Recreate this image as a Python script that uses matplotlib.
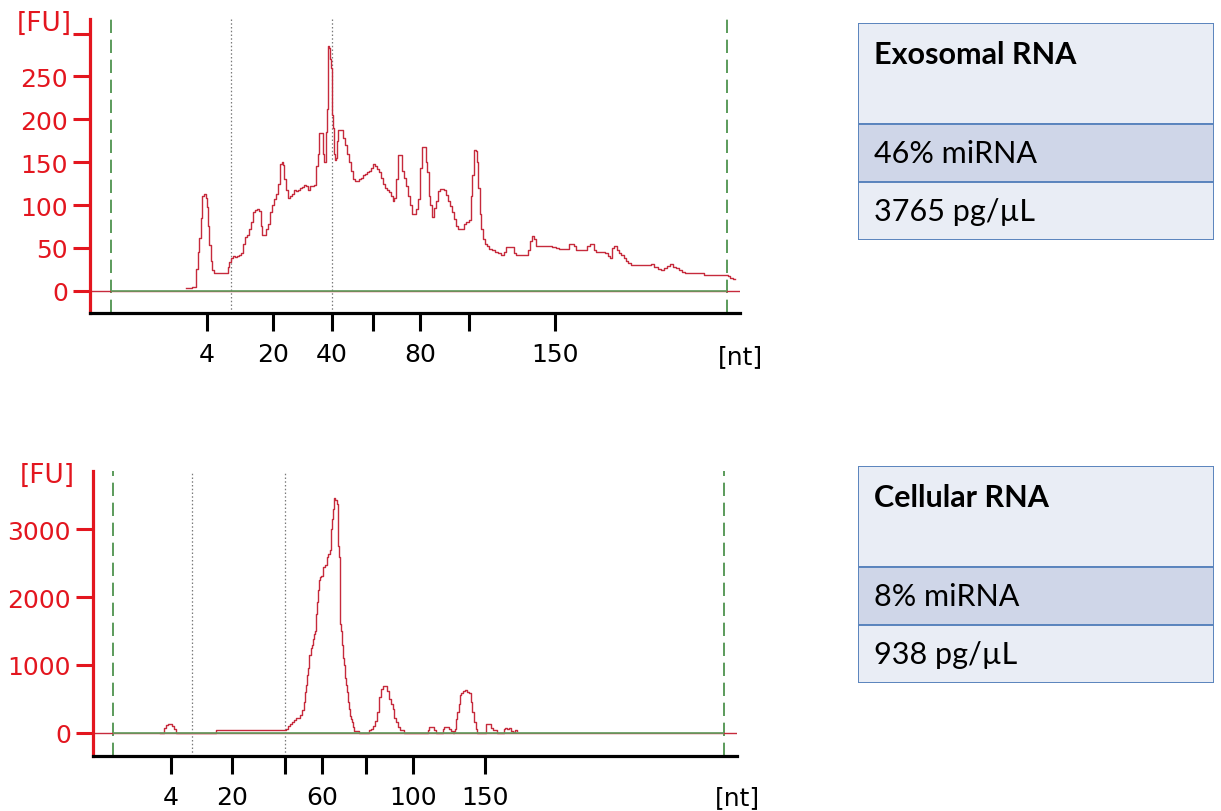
import matplotlib
matplotlib.use("Agg")
import matplotlib.pyplot as plt
import numpy as np
from matplotlib.patches import Rectangle

RED = "#e3161f"
TRACE = "#c62a3c"
GREEN = "#3f8a3f"
BASE_GREEN = "#5f9f5f"
DOT = "#7a7a7a"
BOX_EDGE = "#5a84bd"
BOX_FILL = "#e9edf5"
BOX_MID = "#cfd6e8"

# --- exosomal RNA electropherogram (scan position, fluorescence units) ---
exo_pos = [186, 190, 195, 197, 199, 200, 202, 203, 205, 207, 208, 209, 210, 212, 213, 216, 220, 224, 227,
           229, 230, 232, 234, 236, 238, 240, 242, 244, 246, 248, 250, 252, 254, 256, 258, 260, 262, 263,
           265, 267, 269, 271, 273, 275, 277, 279, 281, 283, 284, 285, 287, 289, 291, 293, 295, 297, 299,
           301, 303, 305, 307, 309, 311, 313, 315, 317, 319, 320, 322, 324, 325, 326, 327, 328, 329, 330,
           331, 332, 333, 334, 335, 336, 337, 338, 339, 341, 343, 344, 346, 348, 350, 352, 354, 356, 358,
           360, 362, 364, 366, 368, 370, 372, 374, 376, 378, 380, 382, 384, 386, 388, 390, 392, 394, 395,
           397, 399, 401, 403, 405, 407, 409, 411, 413, 415, 417, 419, 421, 423, 425, 427, 428, 430, 431,
           433, 435, 437, 439, 441, 443, 445, 447, 449, 451, 453, 455, 457, 459, 461, 463, 465, 468, 470,
           472, 473, 475, 477, 478, 479, 481, 482, 484, 486, 488, 491, 494, 497, 500, 503, 505, 507, 510,
           513, 515, 517, 520, 524, 527, 529, 531, 533, 535, 537, 540, 545, 550, 555, 558, 561, 565, 568,
           570, 573, 575, 578, 582, 586, 589, 591, 593, 595, 598, 603, 607, 609, 611, 613, 616, 618, 620,
           623, 625, 627, 630, 633, 636, 640, 645, 650, 653, 656, 660, 663, 666, 669, 672, 675, 678, 681,
           684, 687, 692, 698, 703, 706, 712, 718, 724, 727, 729, 732, 735]
exo_fu = [3, 3, 4, 25, 45, 62, 85, 110, 113, 108, 98, 75, 53, 35, 24, 21, 21, 21, 21,
          28, 34, 38, 41, 39, 41, 42, 44, 55, 63, 65, 72, 80, 92, 94, 95, 93, 75, 65,
          65, 72, 78, 92, 100, 107, 113, 125, 148, 150, 147, 130, 118, 108, 110, 113, 118, 116, 118,
          120, 121, 123, 122, 118, 122, 122, 123, 145, 160, 184, 184, 160, 150, 150, 185, 212, 286, 283,
          270, 260, 205, 190, 160, 152, 155, 175, 188, 188, 188, 178, 170, 160, 150, 140, 130, 128, 128,
          130, 132, 135, 136, 138, 140, 143, 148, 146, 142, 138, 132, 125, 120, 117, 115, 110, 105, 108,
          130, 158, 158, 140, 131, 122, 110, 100, 90, 90, 95, 107, 143, 168, 168, 150, 139, 110, 100,
          86, 96, 105, 116, 119, 119, 117, 112, 105, 99, 92, 84, 76, 72, 72, 72, 78, 80, 82,
          110, 135, 164, 163, 150, 120, 90, 72, 60, 55, 52, 49, 47, 45, 44, 42, 45, 51, 51,
          51, 44, 42, 42, 42, 42, 48, 58, 64, 60, 52, 52, 52, 52, 51, 50, 49, 49, 49,
          54, 55, 52, 47, 47, 47, 52, 55, 54, 48, 45, 45, 44, 40, 38, 50, 52, 47, 44,
          42, 38, 35, 32, 30, 30, 30, 30, 30, 31, 28, 25, 24, 27, 29, 31, 28, 26, 24,
          22, 21, 21, 21, 21, 18, 18, 18, 18, 18, 17, 15, 14]

# --- cellular RNA electropherogram ---
cel_pos = [160, 163, 165, 167, 169, 171, 173, 175, 177, 180,
           212, 215, 216, 220, 230, 240, 250, 260, 270, 280, 285, 287, 289, 291, 293, 295, 297, 299,
           301, 303, 304, 305, 306, 307, 308, 310, 311, 312, 313, 314, 315, 316, 317, 318, 319, 320,
           322, 324, 326, 327, 329, 330, 331, 332, 333, 334, 336, 337, 338, 339, 340, 341, 342, 343,
           344, 345, 346, 347, 348, 349, 350, 351, 352, 353, 355, 358, 360, 368, 370, 372, 374, 376,
           378, 380, 382, 384, 386, 388, 390, 392, 393, 395, 397, 399, 400, 402, 405, 427, 428, 430,
           433, 435, 437, 442, 443, 445, 448, 450, 452, 453, 454, 455, 456, 458, 459, 460, 462, 464,
           466, 468, 470, 471, 473, 475, 476, 477, 485, 486, 488, 490, 492, 494, 496, 498, 503, 504,
           506, 508, 510, 512, 514, 516, 517]
cel_fu = [0, 0, 60, 110, 125, 120, 100, 45, 0, 0,
          0, 0, 35, 35, 35, 35, 35, 35, 35, 35, 35, 50, 90, 130, 160, 190, 215, 220,
          260, 330, 450, 600, 700, 850, 950, 1150, 1250, 1300, 1380, 1450, 1500, 1750, 1930, 2100, 2250, 2300,
          2310, 2450, 2480, 2600, 2640, 2700, 3000, 3150, 3300, 3470, 3430, 3380, 2750, 2600, 1600, 1500, 1300, 1100,
          1000, 800, 700, 600, 450, 350, 250, 200, 150, 80, 20, 20, 0, 0, 30, 50, 100, 170,
          300, 520, 640, 690, 690, 620, 500, 420, 350, 220, 150, 80, 40, 30, 0, 0, 40, 75,
          75, 40, 0, 0, 50, 75, 75, 50, 20, 0, 20, 50, 200, 300, 420, 550, 580, 620,
          630, 600, 580, 450, 300, 150, 50, 0, 0, 120, 125, 125, 70, 30, 30, 0, 0, 50,
          60, 55, 60, 20, 10, 40, 20]

# axis furniture for each run
exo_xlim = (90, 740)
exo_ylim = (-26, 317)
exo_yticks = [0, 50, 100, 150, 200, 250, 300]
exo_xticks = [207, 273, 332, 373, 420, 469, 555]
exo_xlabels = ["4", "20", "40", "", "80", "", "150"]
exo_ladder = (111, 727)
exo_regions = [231, 332]

cel_xlim = (93, 737)
cel_ylim = (-347, 3863)
cel_yticks = [0, 1000, 2000, 3000]
cel_xticks = [171, 232, 285, 322, 366, 413, 485]
cel_xlabels = ["4", "20", "", "60", "", "100", "150"]
cel_ladder = (113, 724)
cel_regions = [192, 285]

# summary boxes
box_titles = ["Exosomal RNA", "Cellular RNA"]
box_mirna = ["46% miRNA", "8% miRNA"]
box_conc = ["3765 pg/\u00b5L", "938 pg/\u00b5L"]

W, H = 1221, 812
fig = plt.figure(figsize=(W / 100, H / 100), dpi=100)
fig.patch.set_facecolor("white")


def px_axes(x0, y0, x1, y1):
    return fig.add_axes([x0 / W, 1 - y1 / H, (x1 - x0) / W, (y1 - y0) / H])


def draw_trace(ax, pos, fu, xlim, ylim, yticks, ylabels, xticks, xlabels, ladder, regions, fu_top_tick):
    ax.set_xlim(*xlim)
    ax.set_ylim(*ylim)
    for s in ("top", "right"):
        ax.spines[s].set_visible(False)
    ax.spines["left"].set_color(RED)
    ax.spines["left"].set_linewidth(2.3)
    ax.spines["bottom"].set_color("black")
    ax.spines["bottom"].set_linewidth(2.3)

    ax.set_yticks(yticks)
    ax.set_yticklabels(ylabels)
    ax.tick_params(axis="y", colors=RED, length=12, width=2.2, pad=4, labelsize=18)
    ax.set_xticks(xticks)
    ax.set_xticklabels(xlabels)
    ax.tick_params(axis="x", colors="black", length=13, width=2.2, pad=8, labelsize=18)

    # ladder markers and region limits
    for xv in ladder:
        ax.axvline(xv, color=GREEN, lw=1.2, dashes=(8, 4), zorder=1)
    for xv in regions:
        ax.axvline(xv, color=DOT, lw=0.9, dashes=(1.2, 1.8), zorder=1)

    ax.hlines(0, xlim[0], xlim[1], color=TRACE, lw=1.0, zorder=2)
    ax.plot(pos, fu, color=TRACE, lw=1.0, drawstyle="steps-mid", zorder=3)
    ax.hlines(0, ladder[0], ladder[1], color=BASE_GREEN, lw=1.2, zorder=4)

    ax.text(1.0, -0.145, "[nt]", transform=ax.transAxes, ha="center", va="center", fontsize=18)
    if fu_top_tick:
        ax.annotate("[FU]", xy=(0, yticks[-1]), xycoords=("axes fraction", "data"),
                    xytext=(-13, 8), textcoords="offset points", ha="right", va="center",
                    fontsize=19, color=RED)
    else:
        ax.annotate("[FU]", xy=(0, 1.0), xycoords="axes fraction",
                    xytext=(-13, -3), textcoords="offset points", ha="right", va="center",
                    fontsize=19, color=RED)


ax1 = px_axes(90, 20, 740, 314)
draw_trace(ax1, exo_pos, exo_fu, exo_xlim, exo_ylim, exo_yticks,
           [str(v) for v in exo_yticks[:-1]] + [""], exo_xticks, exo_xlabels,
           exo_ladder, exo_regions, True)

ax2 = px_axes(93, 472, 737, 757)
draw_trace(ax2, cel_pos, cel_fu, cel_xlim, cel_ylim, cel_yticks,
           [str(v) for v in cel_yticks], cel_xticks, cel_xlabels,
           cel_ladder, cel_regions, False)

# summary tables on the right
row_heights = [101, 58, 58]
for i, top in enumerate([24, 467]):
    bx = px_axes(858, top, 1214, top + sum(row_heights))
    bx.set_xlim(0, 1)
    bx.set_ylim(sum(row_heights), 0)
    bx.axis("off")
    y = 0
    fills = [BOX_FILL, BOX_MID, BOX_FILL]
    for h, fc in zip(row_heights, fills):
        bx.add_patch(Rectangle((0, y), 1, h, facecolor=fc, edgecolor=BOX_EDGE, lw=1.4))
        y += h
    bx.text(0.045, 31, box_titles[i], ha="left", va="center", fontsize=22,
            fontweight="bold", family="Lato")
    bx.text(0.045, row_heights[0] + 29, box_mirna[i], ha="left", va="center",
            fontsize=22, family="Lato")
    bx.text(0.045, row_heights[0] + row_heights[1] + 29, box_conc[i], ha="left",
            va="center", fontsize=22, family="Lato")

fig.savefig("out.png", dpi=100)
